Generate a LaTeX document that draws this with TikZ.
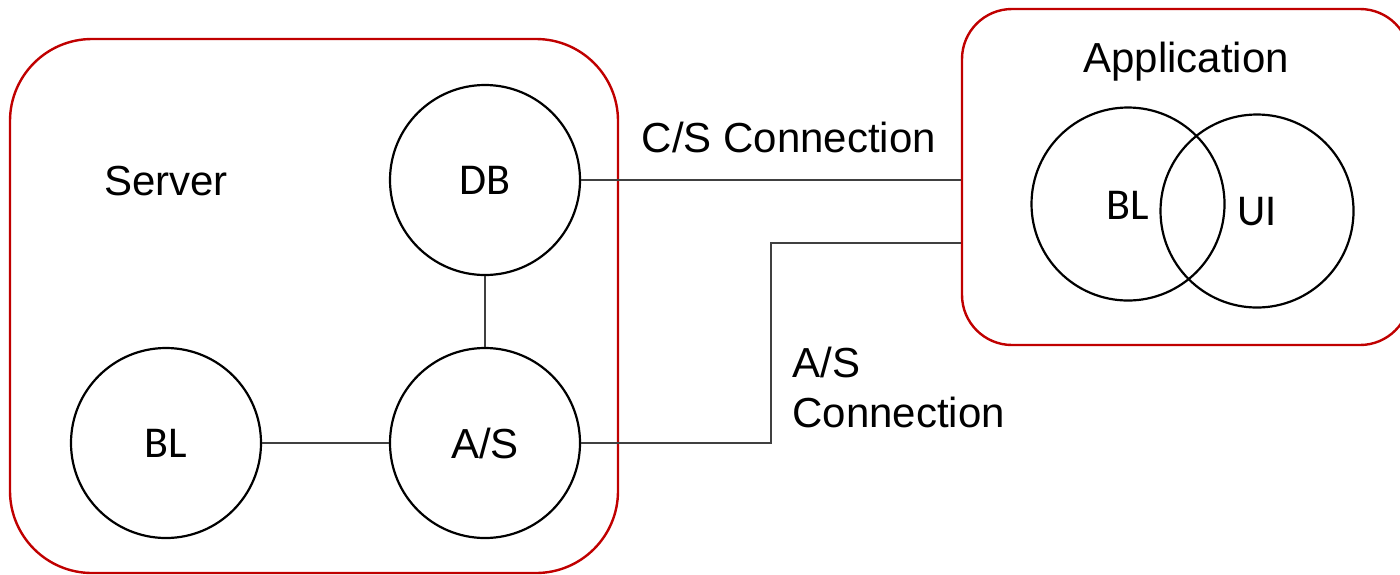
\documentclass[tikz,border=0pt]{standalone}
\usepackage{fontspec}
\setmainfont{Liberation Sans}
\newfontfamily\calib{Carlito}
\tikzset{
  grp/.style={draw=frame, line width=1.2pt, rectangle, inner sep=0pt},
  part/.style={draw=black, line width=1.1pt, circle, inner sep=0pt, minimum size=95pt,
               font=\calib\fontsize{22pt}{26pt}\selectfont},
  link/.style={draw=wire, line width=0.65pt},
  lbl/.style={font=\fontsize{21pt}{25pt}\selectfont, inner sep=0pt}
}
\definecolor{frame}{HTML}{C00000}
\definecolor{wire}{HTML}{404040}
\begin{document}
\begin{tikzpicture}[x=0.5pt, y=-0.5pt]
\useasboundingbox (0,0) rectangle (1400,574);

% enclosing groups
\node[grp, rounded corners=41pt, minimum width=304pt, minimum height=267pt] (server) at (314,306) {};
\node[grp, rounded corners=25pt, minimum width=224pt, minimum height=168pt] (app) at (1186,177) {};

% server components
\node[part] (db) at (485,180) {DB};
\node[part, font=\fontsize{21pt}{25pt}\selectfont] (as) at (485,443) {A/S};
\node[part] (sbl) at (166,443) {BL};

% application components
\node[part, minimum size=96.5pt] (abl) at (1128,204) {};
\node[part, minimum size=96.5pt] (ui) at (1257,211) {};
\node[font=\calib\fontsize{22pt}{26pt}\selectfont, inner sep=0pt] (abltext) at (1128,205) {BL};
\node[font=\calib\fontsize{22pt}{26pt}\selectfont, inner sep=0pt] (uitext) at (1257,212) {UI};

% labels
\node[lbl, anchor=base] (serverlbl) at (166,195) {Server};
\node[lbl, anchor=base] (applbl) at (1186,72) {Application};
\node[lbl, anchor=base] (cslbl) at (789,152) {C/S Connection};
\node[lbl, anchor=base west, align=left] (aslbl) at (792,427) {A/S\\Connection};

% connections
\draw[link] (db.south) -- (as.north);
\draw[link] (sbl.east) -- (as.west);
\draw[link] (db.east) -- (db.east -| app.west);
\coordinate (bend) at (771,243);
\draw[link] (as.east) -| (bend) -- (bend -| app.west);
\end{tikzpicture}
\end{document}
